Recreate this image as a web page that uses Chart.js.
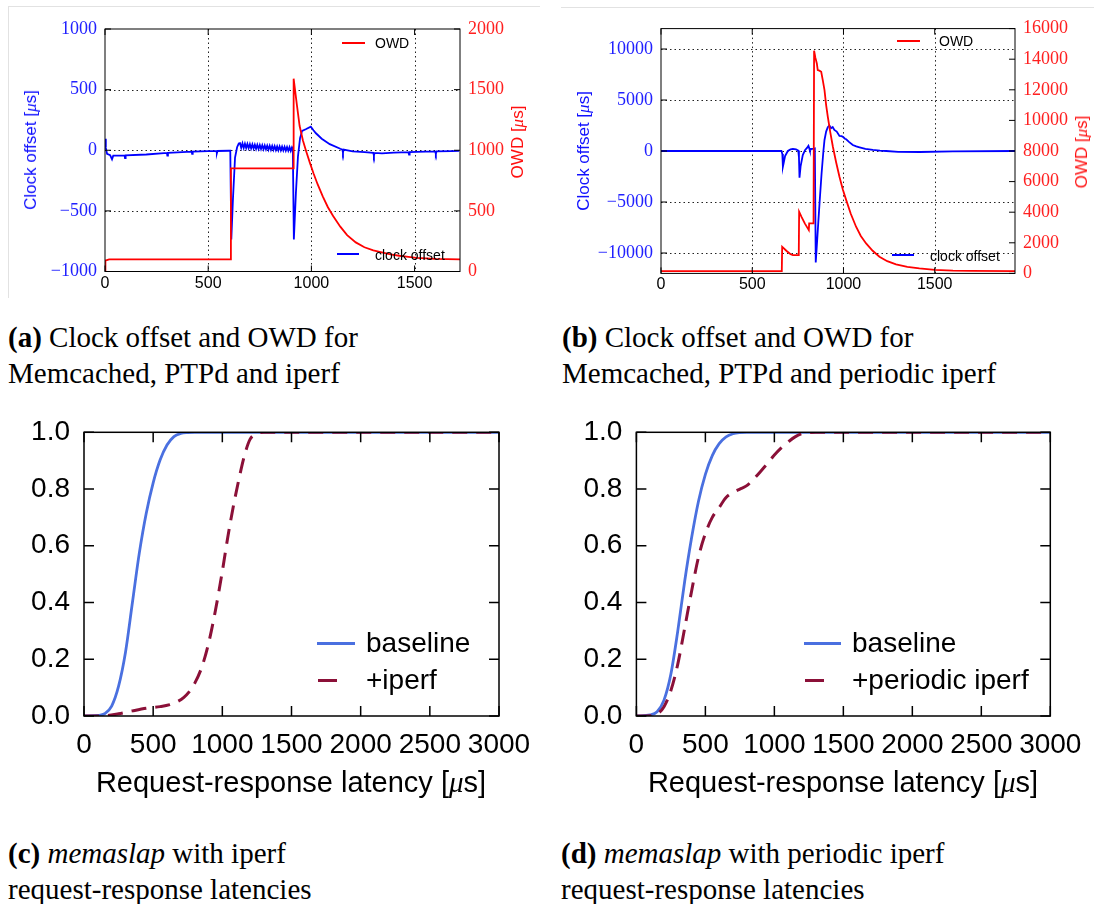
<!DOCTYPE html>
<html>
<head>
<meta charset="utf-8">
<script src="https://cdn.jsdelivr.net/npm/chart.js@4.4.0/dist/chart.umd.min.js"></script>
<style>
  body { margin: 0; background: #fff; width: 1094px; height: 904px; position: relative; overflow: hidden; }
  canvas { position: absolute; }
  .caption { position: absolute; font-family: "Liberation Serif", "Times New Roman", serif; font-size: 29px; line-height: 36px; color: #000; white-space: nowrap; }
  .axis-title { position: absolute; font-family: "Liberation Sans", Arial, sans-serif; white-space: nowrap; transform: translate(-50%, -50%); }
  .axis-title.rot { transform: translate(-50%, -50%) rotate(-90deg); }
  .axis-title i { font-family: "Liberation Serif", serif; }
  .key { position: absolute; }
  .key-text { position: absolute; font-family: "Liberation Sans", Arial, sans-serif; white-space: nowrap; transform: translateY(-50%); color: #000; }
  .frame { position: absolute; background: #e2e2e2; }
</style>
</head>
<body>
  <div class="frame" style="left:8px; top:6px; width:532px; height:1px"></div>
  <div class="frame" style="left:8px; top:6px; width:1px; height:292px"></div>
  <div class="frame" style="left:561px; top:7px; width:533px; height:1px"></div>

  <canvas id="chart-a" width="547" height="305" style="left:0; top:0"></canvas>
  <canvas id="chart-b" width="547" height="305" style="left:547px; top:0"></canvas>
  <canvas id="chart-c" width="545" height="400" style="left:0; top:400px"></canvas>
  <canvas id="chart-d" width="549" height="400" style="left:545px; top:400px"></canvas>

  <div class="axis-title rot" style="left:31px; top:150px; font-size:17px; color:#1010ff">Clock offset [<i>μ</i>s]</div>
  <div class="axis-title rot" style="left:518px; top:142px; font-size:17px; color:#ff1010">OWD [<i>μ</i>s]</div>
  <div class="axis-title rot" style="left:584px; top:151px; font-size:17px; color:#1010ff">Clock offset [<i>μ</i>s]</div>
  <div class="axis-title rot" style="left:1082px; top:152px; font-size:17px; color:#ff1010">OWD [<i>μ</i>s]</div>
  <div class="axis-title" style="left:291px; top:782px; font-size:29px; color:#000">Request-response latency [<i>μ</i>s]</div>
  <div class="axis-title" style="left:843px; top:782px; font-size:29px; color:#000">Request-response latency [<i>μ</i>s]</div>

  <div class="key" style="left:342px; top:42px; width:23px; height:2px; background:#ff0000"></div>
  <div class="key-text" style="left:375px; top:43px; font-size:14px">OWD</div>
  <div class="key" style="left:337px; top:253px; width:22px; height:2px; background:#0000ff"></div>
  <div class="key-text" style="left:375px; top:255px; font-size:14px">clock offset</div>
  <div class="key" style="left:897px; top:40px; width:23px; height:2px; background:#ff0000"></div>
  <div class="key-text" style="left:939px; top:41px; font-size:14px">OWD</div>
  <div class="key" style="left:892px; top:254px; width:22px; height:2px; background:#0000ff"></div>
  <div class="key-text" style="left:930px; top:256px; font-size:14px">clock offset</div>

  <div class="key" style="left:317px; top:642px; width:38px; height:3px; background:#4a70e0"></div>
  <div class="key-text" style="left:366px; top:643px; font-size:28px">baseline</div>
  <div class="key" style="left:318px; top:679px; width:19px; height:3px; background:#8b1038"></div>
  <div class="key-text" style="left:366px; top:680px; font-size:28px">+iperf</div>
  <div class="key" style="left:804px; top:642px; width:37px; height:3px; background:#4a70e0"></div>
  <div class="key-text" style="left:852px; top:643px; font-size:28px">baseline</div>
  <div class="key" style="left:805px; top:679px; width:19px; height:3px; background:#8b1038"></div>
  <div class="key-text" style="left:852px; top:680px; font-size:28px">+periodic iperf</div>

  <div class="caption" style="left:8px; top:319px"><b>(a)</b> Clock offset and OWD for<br>Memcached, PTPd and iperf</div>
  <div class="caption" style="left:562px; top:319px"><b>(b)</b> Clock offset and OWD for<br>Memcached, PTPd and periodic iperf</div>
  <div class="caption" style="left:8px; top:835px"><b>(c)</b> <i>memaslap</i> with iperf<br>request-response latencies</div>
  <div class="caption" style="left:561px; top:835px"><b>(d)</b> <i>memaslap</i> with periodic iperf<br>request-response latencies</div>

<script>
// tick values
const timeTicks = [0, 500, 1000, 1500]
const offsetTicksA = [-1000, -500, 0, 500, 1000]
const owdTicksA = [0, 500, 1000, 1500, 2000]
const offsetTicksB = [-10000, -5000, 0, 5000, 10000]
const owdTicksB = [0, 2000, 4000, 6000, 8000, 10000, 12000, 14000, 16000]
const latencyTicks = [0, 500, 1000, 1500, 2000, 2500, 3000]
const cdfTicks = [0, 0.2, 0.4, 0.6, 0.8, 1.0]

// (a) Memcached, PTPd and iperf
const offsetTimeA = [0, 4, 10, 25, 34, 40, 95, 97, 100, 200, 300, 302, 305, 420, 422, 425, 500, 540, 542, 545, 600, 607,
  612, 620, 630, 640, 648,
  654, 660, 666, 672, 678, 684, 690, 696, 702, 708, 714, 720, 726, 732, 738, 744, 750, 756, 762, 768, 774, 780,
  786, 792, 798, 804, 810, 816, 822, 828, 834, 840, 846, 852, 858, 864, 870, 876, 882, 888, 894, 900, 906, 910,
  915, 925, 935, 945, 955, 975, 997, 1010, 1022, 1050, 1089, 1140, 1150, 1153, 1156, 1200, 1258, 1300, 1303, 1306, 1342, 1400,
  1470, 1473, 1476, 1510, 1600, 1603, 1606, 1680, 1716]
const offsetValA = [95, 20, -30, -40, -75, -45, -42, -65, -42, -35, -22, -45, -22, -12, -30, -12, -8, -6, -25, -6, -4, -4,
  -735, -400, -60, 25, 55,
  58, 20, 56, 19, 54, 18, 52, 17, 50, 15, 48, 14, 46, 12, 45, 11, 43, 10, 41, 8, 40, 7,
  38, 5, 37, 4, 35, 3, 34, 2, 32, 0, 31, -1, 30, -2, 28, -3, 27, -4, 26, -5, 24, 10,
  -735, -350, -50, 100, 160, 175, 195, 165, 140, 95, 50, 12, 5, -20, 5, -10, -15, -22, -45, -22, -25, -20,
  -15, -35, -15, -14, -10, -30, -10, -7, -5]
const owdTimeA = [0, 2, 20, 608, 610, 912, 914, 930, 943, 959, 975, 992, 1010, 1030, 1055, 1080, 1106, 1140, 1173, 1215,
  1257, 1300, 1341, 1383, 1425, 1470, 1510, 1600, 1720]
const owdValA = [0, 90, 100, 100, 850, 850, 1590, 1370, 1200, 1080, 990, 900, 810, 720, 620, 530, 455, 370, 300, 240,
  200, 175, 158, 142, 130, 120, 112, 104, 100]

// (b) Memcached, PTPd and periodic iperf
const offsetTimeB = [0, 660, 665, 668, 672, 680, 695, 710, 723, 740, 752, 756, 759, 765, 777, 790, 800, 808, 812, 816, 825,
  835, 843, 848, 855, 862, 870, 880, 890, 896, 905, 914, 923, 932, 941, 950, 963, 978, 990, 1000, 1008, 1015, 1030, 1051,
  1070, 1088, 1120, 1161, 1200, 1234, 1300, 1418, 1600, 1940]
const offsetValB = [0, 0, -300, -1540, -1200, -500, 0, 150, 200, 150, 50, -600, -2620, -1500, -400, 100, 300, 520, 300, 50, 200,
  200, 250, -10920, -9000, -7000, -4800, -2200, 0, 1080, 1900, 2330, 2500, 2230, 2350, 2060, 1900, 1470, 1450, 1340, 1200, 1150, 900, 590,
  450, 360, 200, 100, 30, 0, -80, -100, -30, 0]
const owdTimeB = [0, 662, 664, 690, 710, 723, 755, 757, 770, 788, 810, 812, 836, 839, 846, 854, 859, 868, 878, 887, 896, 905,
  914, 928, 942, 960, 978, 996, 1015, 1040, 1069, 1095, 1124, 1160, 1197, 1240, 1288, 1350, 1416, 1500, 1600, 1700, 1940]
const owdValB = [150, 150, 1740, 1450, 1250, 1200, 1200, 4030, 3700, 3270, 2830, 3270, 3270, 14550, 14100, 13725, 13290, 13250,
  13180, 12600, 11980, 11000, 10240, 9200, 8280, 7250, 6320, 5500, 4790, 3900, 3050, 2450, 1960, 1480, 1090, 800, 590, 430,
  330, 230, 180, 160, 150]

// (c) memaslap with iperf
const latencyBaseC = [0, 100, 150, 200, 250, 300, 350, 400, 450, 500, 550, 600, 650, 700, 750, 800, 3000]
const cdfBaseC = [0, 0.002, 0.008, 0.035, 0.105, 0.225, 0.4, 0.575, 0.715, 0.822, 0.902, 0.955, 0.985, 0.996, 0.999, 1.0, 1.0]
const latencyIperfC = [0, 150, 250, 350, 450, 550, 620, 680, 720, 760, 800, 850, 900, 950, 1000, 1040, 1080, 1120, 1160,
  1200, 1250, 1300, 3000]
const cdfIperfC = [0, 0.001, 0.008, 0.018, 0.027, 0.033, 0.04, 0.052, 0.065, 0.085, 0.115, 0.17, 0.255, 0.372, 0.51, 0.632,
  0.74, 0.835, 0.918, 0.975, 0.995, 1.0, 1.0]

// (d) memaslap with periodic iperf
const latencyBaseD = [0, 100, 150, 200, 250, 300, 350, 400, 450, 500, 550, 600, 650, 700, 750, 800, 3000]
const cdfBaseD = [0, 0.004, 0.015, 0.056, 0.148, 0.3, 0.475, 0.628, 0.757, 0.852, 0.918, 0.96, 0.984, 0.995, 0.999, 1.0, 1.0]
const latencyPeriodicD = [0, 100, 150, 200, 250, 300, 350, 400, 450, 500, 550, 600, 650, 700, 750, 800, 850, 900, 950,
  1000, 1050, 1100, 1150, 1200, 1250, 1300, 3000]
const cdfPeriodicD = [0, 0.001, 0.007, 0.033, 0.09, 0.183, 0.31, 0.44, 0.56, 0.643, 0.7, 0.735, 0.77, 0.788, 0.8, 0.812,
  0.835, 0.862, 0.89, 0.92, 0.945, 0.966, 0.984, 0.995, 0.999, 1.0, 1.0]

const toPoints = (xs, ys) => xs.map((x, i) => ({ x: x, y: ys[i] }))
const fixedTicks = values => scale => { scale.ticks = values.map(v => ({ value: v })) }
const fixedWidth = w => scale => { scale.width = w }
const fixedHeight = h => scale => { scale.height = h }
const signed = v => v < 0 ? "\u2212" + Math.abs(v) : String(v)

const serifFont = size => ({ family: "'Liberation Serif', 'Times New Roman', serif", size: size })
const sansFont = size => ({ family: "'Liberation Sans', Arial, sans-serif", size: size })
const noGrid = { display: false, drawTicks: false }

// draws dotted grid, box frame and inward ticks from the chart scales
const framePlugin = {
  id: "frame",
  beforeDatasetsDraw(chart, args, opts) {
    if (!opts.grid) return
    const { ctx, chartArea: area, scales } = chart
    ctx.save()
    ctx.strokeStyle = "#222"
    ctx.lineWidth = 1
    ctx.setLineDash([1.5, 3])
    scales.x.ticks.forEach(t => {
      if (t.value <= scales.x.min || t.value >= scales.x.max) return
      const px = Math.round(scales.x.getPixelForValue(t.value)) + 0.5
      ctx.beginPath()
      ctx.moveTo(px, area.top)
      ctx.lineTo(px, area.bottom)
      ctx.stroke()
    })
    scales.y.ticks.forEach(t => {
      if (t.value <= scales.y.min || t.value >= scales.y.max) return
      const py = Math.round(scales.y.getPixelForValue(t.value)) + 0.5
      ctx.beginPath()
      ctx.moveTo(area.left, py)
      ctx.lineTo(area.right, py)
      ctx.stroke()
    })
    ctx.restore()
  },
  afterDatasetsDraw(chart, args, opts) {
    const { ctx, chartArea: area, scales } = chart
    const len = opts.tickLength
    ctx.save()
    ctx.strokeStyle = "#000"
    ctx.lineWidth = opts.lineWidth
    ctx.strokeRect(area.left, area.top, area.right - area.left, area.bottom - area.top)
    ctx.beginPath()
    scales.x.ticks.forEach(t => {
      const px = scales.x.getPixelForValue(t.value)
      ctx.moveTo(px, area.bottom)
      ctx.lineTo(px, area.bottom - len)
      ctx.moveTo(px, area.top)
      ctx.lineTo(px, area.top + len)
    })
    scales.y.ticks.forEach(t => {
      const py = scales.y.getPixelForValue(t.value)
      ctx.moveTo(area.left, py)
      ctx.lineTo(area.left + len, py)
      if (!scales.y2) {
        ctx.moveTo(area.right, py)
        ctx.lineTo(area.right - len, py)
      }
    })
    if (scales.y2) {
      scales.y2.ticks.forEach(t => {
        const py = scales.y2.getPixelForValue(t.value)
        ctx.moveTo(area.right, py)
        ctx.lineTo(area.right - len, py)
      })
    }
    ctx.stroke()
    ctx.restore()
  }
}

Chart.register(framePlugin)

function clockChart(id, setup) {
  return new Chart(document.getElementById(id), {
    type: "line",
    data: {
      datasets: [
        { label: "OWD", data: toPoints(setup.owdTime, setup.owdVal), yAxisID: "y2",
          borderColor: "#ff0000", borderWidth: 1.8, pointRadius: 0, tension: 0, fill: false },
        { label: "clock offset", data: toPoints(setup.offsetTime, setup.offsetVal), yAxisID: "y",
          borderColor: "#0000ff", borderWidth: 1.8, pointRadius: 0, tension: 0, fill: false }
      ]
    },
    options: {
      responsive: false,
      animation: false,
      events: [],
      layout: { padding: { top: setup.top, left: 0, right: 0, bottom: 0 } },
      plugins: {
        legend: { display: false },
        tooltip: { enabled: false },
        frame: { grid: true, tickLength: 6, lineWidth: 1 }
      },
      scales: {
        x: {
          type: "linear", min: 0, max: setup.xMax,
          afterBuildTicks: fixedTicks(timeTicks),
          afterFit: fixedHeight(setup.bottom),
          grid: noGrid, border: { display: false },
          ticks: { font: sansFont(16), color: "#000", padding: 2, maxRotation: 0, autoSkip: false, callback: signed }
        },
        y: {
          type: "linear", position: "left", min: -setup.offsetMax, max: setup.offsetMax,
          afterBuildTicks: fixedTicks(setup.offsetTicks),
          afterFit: fixedWidth(setup.left),
          grid: noGrid, border: { display: false },
          ticks: { font: serifFont(18), color: "#2020ff", padding: 8, callback: signed, autoSkip: false }
        },
        y2: {
          type: "linear", position: "right", min: 0, max: setup.owdMax,
          afterBuildTicks: fixedTicks(setup.owdTicks),
          afterFit: fixedWidth(setup.right),
          grid: noGrid, border: { display: false },
          ticks: { font: serifFont(18), color: "#ff2020", padding: 8, callback: signed, autoSkip: false }
        }
      }
    }
  })
}

function cdfChart(id, setup) {
  return new Chart(document.getElementById(id), {
    type: "line",
    data: {
      datasets: [
        { label: setup.loadLabel, data: toPoints(setup.loadX, setup.loadY),
          borderColor: "#8b1038", borderWidth: 3, borderDash: [15, 9], pointRadius: 0,
          cubicInterpolationMode: "monotone", fill: false },
        { label: "baseline", data: toPoints(setup.baseX, setup.baseY),
          borderColor: "#4a70e0", borderWidth: 2.8, pointRadius: 0,
          cubicInterpolationMode: "monotone", fill: false }
      ]
    },
    options: {
      responsive: false,
      animation: false,
      events: [],
      layout: { padding: { top: 32.3, left: 0, right: setup.right, bottom: 0 } },
      plugins: {
        legend: { display: false },
        tooltip: { enabled: false },
        frame: { grid: false, tickLength: 10, lineWidth: 1.5 }
      },
      scales: {
        x: {
          type: "linear", min: 0, max: 3000,
          afterBuildTicks: fixedTicks(latencyTicks),
          afterFit: fixedHeight(84),
          grid: noGrid, border: { display: false },
          ticks: { font: sansFont(28), color: "#000", padding: 12, maxRotation: 0, autoSkip: false, callback: signed }
        },
        y: {
          type: "linear", min: 0, max: 1,
          afterBuildTicks: fixedTicks(cdfTicks),
          afterFit: fixedWidth(setup.left),
          grid: noGrid, border: { display: false },
          ticks: { font: sansFont(28), color: "#000", padding: 14, autoSkip: false,
            callback: v => v.toFixed(1) }
        }
      }
    }
  })
}

clockChart("chart-a", {
  offsetTime: offsetTimeA, offsetVal: offsetValA, owdTime: owdTimeA, owdVal: owdValA,
  xMax: 1720, offsetMax: 1000, owdMax: 2000, offsetTicks: offsetTicksA, owdTicks: owdTicksA,
  left: 105, right: 87, top: 29, bottom: 33.5
})

clockChart("chart-b", {
  offsetTime: offsetTimeB, offsetVal: offsetValB, owdTime: owdTimeB, owdVal: owdValB,
  xMax: 1940, offsetMax: 12000, owdMax: 16000, offsetTicks: offsetTicksB, owdTicks: owdTicksB,
  left: 114, right: 79, top: 28.6, bottom: 31.6
})

cdfChart("chart-c", {
  baseX: latencyBaseC, baseY: cdfBaseC, loadX: latencyIperfC, loadY: cdfIperfC, loadLabel: "+iperf",
  left: 84, right: 46
})

cdfChart("chart-d", {
  baseX: latencyBaseD, baseY: cdfBaseD, loadX: latencyPeriodicD, loadY: cdfPeriodicD, loadLabel: "+periodic iperf",
  left: 91.4, right: 43.7
})
</script>
</body>
</html>
